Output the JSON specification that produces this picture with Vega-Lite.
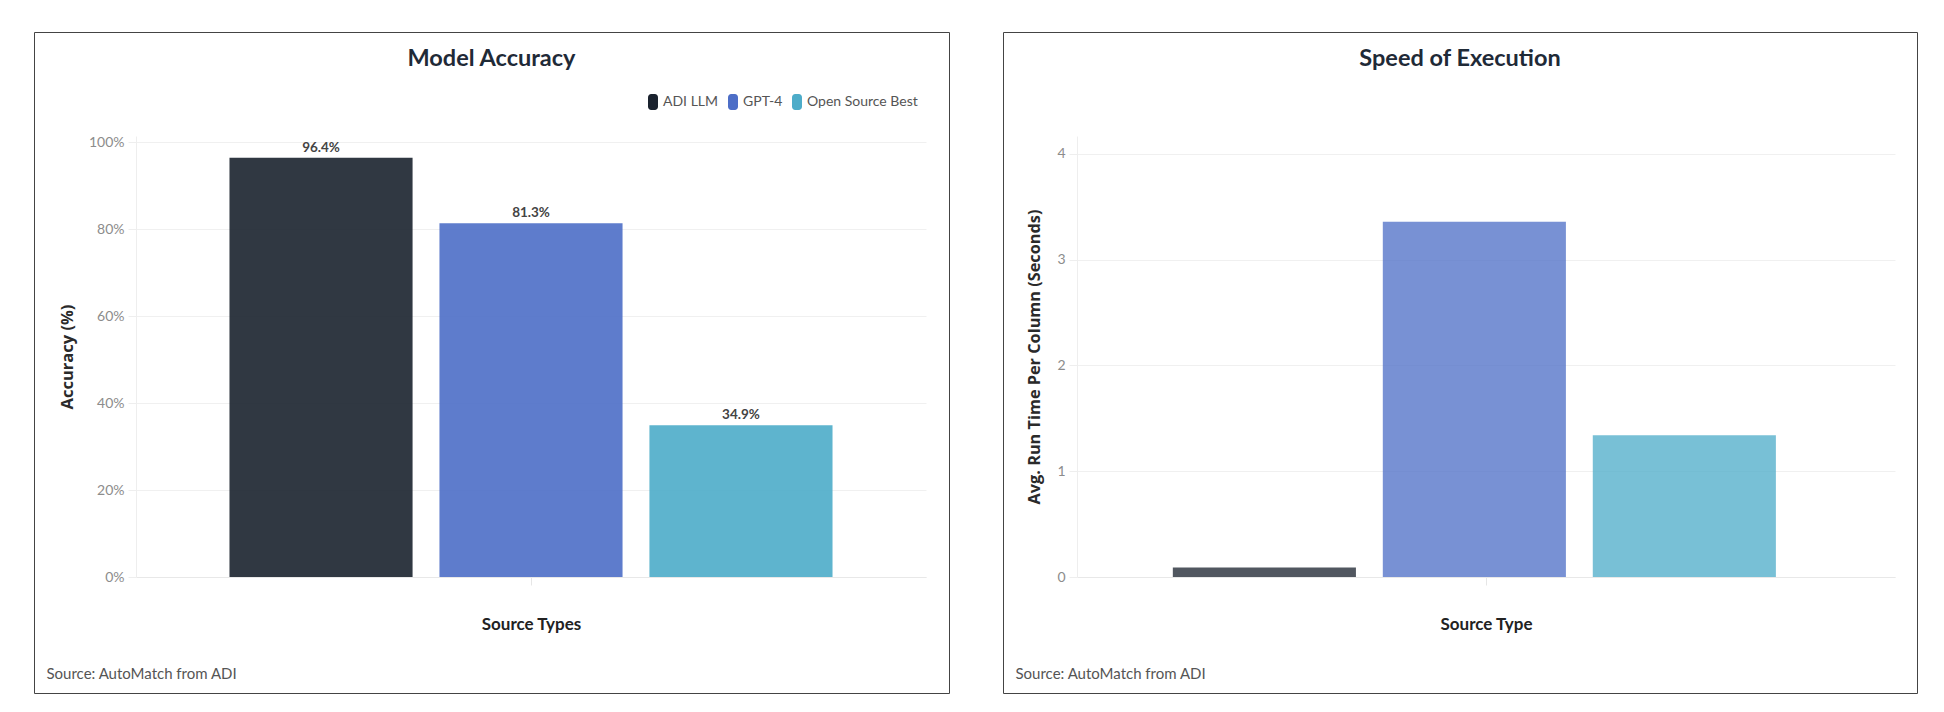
{
  "$schema": "https://vega.github.io/schema/vega-lite/v6.json",
  "padding": {"left": 33, "top": 31, "right": 0, "bottom": 0},
  "background": "white",
  "spacing": 54,
  "bounds": "flush",
  "config": {
    "font": "Lato",
    "view": {"stroke": "#444444", "strokeWidth": 1},
    "axis": {"labelFont": "Lato", "titleFont": "Lato"},
    "legend": {
      "orient": "none",
      "direction": "horizontal",
      "title": null,
      "padding": 0,
      "symbolType": "M-0.625,-0.6 A0.4,0.4 0 0 1 -0.225,-1 H0.225 A0.4,0.4 0 0 1 0.625,-0.6 V0.6 A0.4,0.4 0 0 1 0.225,1 H-0.225 A0.4,0.4 0 0 1 -0.625,0.6 Z",
      "symbolSize": 256,
      "symbolOpacity": 1,
      "symbolStrokeWidth": 0,
      "labelFont": "Lato",
      "labelFontSize": 14,
      "labelColor": "#555555",
      "labelOffset": 2,
      "columnPadding": 6
    },
    "title": {"font": "Lato", "fontSize": 23.5, "fontWeight": "bold", "color": "#1f2a37", "anchor": "middle", "frame": "group", "baseline": "alphabetic", "offset": -38}
  },
  "datasets": {
    "accuracy": [
      {"group": "all", "model": "ADI LLM", "accuracy": 0.964},
      {"group": "all", "model": "GPT-4", "accuracy": 0.813},
      {"group": "all", "model": "Open Source Best", "accuracy": 0.349}
    ],
    "speed": [
      {"group": "all", "model": "ADI LLM", "seconds": 0.09},
      {"group": "all", "model": "GPT-4", "seconds": 3.36},
      {"group": "all", "model": "Open Source Best", "seconds": 1.34}
    ]
  },
  "hconcat": [
    {
      "width": 915,
      "height": 661,
      "data": {"name": "accuracy"},
      "title": {"text": "Model Accuracy"},
      "encoding": {
        "x": {
          "field": "group", "type": "nominal",
          "scale": {"type": "band", "range": [102, 892], "paddingInner": 0, "paddingOuter": 0.155},
          "axis": {
            "orient": "bottom", "offset": -116, "labels": false, "grid": false,
            "tickSize": 8, "tickColor": "#e6e6e6", "domainColor": "#e8e8e8",
            "title": "Source Types", "titleFontSize": 17, "titleFontWeight": "bold", "titleColor": "#222222",
            "titleX": 497, "titleY": 52, "titleAlign": "center", "titleBaseline": "alphabetic"
          }
        },
        "xOffset": {
          "field": "model", "type": "nominal", "sort": ["ADI LLM", "GPT-4", "Open Source Best"],
          "scale": {"paddingInner": 0.128, "paddingOuter": 0}
        },
        "y": {
          "field": "accuracy", "type": "quantitative",
          "scale": {"domain": [0, 1.0138], "range": [545, 104], "nice": false},
          "axis": {
            "offset": -102, "values": [0, 0.2, 0.4, 0.6, 0.8, 1], "format": ".0%",
            "labelFontSize": 14, "labelColor": "#8c8c8c", "labelPadding": 4,
            "tickSize": 8, "tickColor": "#eeeeee", "domainColor": "#eeeeee", "gridColor": "#f0f0f0",
            "title": "Accuracy (%)", "titleFont": "Open Sans", "titleFontSize": 16.5, "titleFontWeight": "bold", "titleColor": "#2a2a2a",
            "titleX": -69, "titleY": 324.5, "titleAngle": 270, "titleAlign": "center", "titleBaseline": "middle"
          }
        }
      },
      "layer": [
        {
          "mark": {"type": "bar", "opacity": 0.9},
          "encoding": {
            "color": {
              "field": "model", "type": "nominal",
              "scale": {"domain": ["ADI LLM", "GPT-4", "Open Source Best"], "range": ["#1a222e", "#4d6ec7", "#4dacc9"]},
              "legend": {"legendX": 611, "legendY": 62}
            }
          }
        },
        {
          "mark": {"type": "text", "dy": -6, "baseline": "alphabetic", "fontWeight": "bold", "fontSize": 13.5, "color": "#444444"},
          "encoding": {
            "text": {"field": "accuracy", "format": ".1%"},
            "x": {
              "field": "group", "type": "nominal",
              "scale": {"type": "band", "range": [102, 892], "paddingInner": 0, "paddingOuter": 0.155},
              "axis": {
                "orient": "bottom", "offset": 0, "labels": false, "ticks": false, "domain": false, "grid": false,
                "title": "Source: AutoMatch from ADI", "titleFontSize": 15, "titleFontWeight": "normal", "titleColor": "#555555",
                "titleX": 12, "titleY": -15, "titleAlign": "left", "titleBaseline": "alphabetic"
              }
            }
          }
        }
      ],
      "resolve": {"axis": {"x": "independent"}}
    },
    {
      "width": 914,
      "height": 661,
      "data": {"name": "speed"},
      "title": {"text": "Speed of Execution"},
      "encoding": {
        "x": {
          "field": "group", "type": "nominal",
          "scale": {"type": "band", "range": [74, 892], "paddingInner": 0, "paddingOuter": 0.153},
          "axis": {
            "orient": "bottom", "offset": -116, "labels": false, "grid": false,
            "tickSize": 8, "tickColor": "#e6e6e6", "domainColor": "#e8e8e8",
            "title": "Source Type", "titleFontSize": 17, "titleFontWeight": "bold", "titleColor": "#222222",
            "titleX": 483, "titleY": 52, "titleAlign": "center", "titleBaseline": "alphabetic"
          }
        },
        "xOffset": {
          "field": "model", "type": "nominal", "sort": ["ADI LLM", "GPT-4", "Open Source Best"],
          "scale": {"paddingInner": 0.128, "paddingOuter": 0}
        },
        "y": {
          "field": "seconds", "type": "quantitative",
          "scale": {"domain": [0, 4.17], "range": [545, 104], "nice": false},
          "axis": {
            "offset": -74, "values": [0, 1, 2, 3, 4], "format": "d",
            "labelFontSize": 14, "labelColor": "#8c8c8c", "labelPadding": 4,
            "tickSize": 8, "tickColor": "#eeeeee", "domainColor": "#eeeeee", "gridColor": "#f0f0f0",
            "title": "Avg. Run Time Per Column (Seconds)", "titleFont": "Open Sans", "titleFontSize": 16.3, "titleFontWeight": "bold", "titleColor": "#2a2a2a",
            "titleX": -43, "titleY": 324.5, "titleAngle": 270, "titleAlign": "center", "titleBaseline": "middle"
          }
        }
      },
      "layer": [
        {
          "mark": {"type": "bar", "opacity": 0.76},
          "encoding": {
            "color": {
              "field": "model", "type": "nominal",
              "scale": {"domain": ["ADI LLM", "GPT-4", "Open Source Best"], "range": ["#1a222e", "#4d6ec7", "#4dacc9"]},
              "legend": {"legendX": 612, "legendY": 62}
            }
          }
        },
        {
          "mark": {"type": "text"},
          "encoding": {
            "text": {"value": ""},
            "x": {
              "field": "group", "type": "nominal",
              "scale": {"type": "band", "range": [74, 892], "paddingInner": 0, "paddingOuter": 0.153},
              "axis": {
                "orient": "bottom", "offset": 0, "labels": false, "ticks": false, "domain": false, "grid": false,
                "title": "Source: AutoMatch from ADI", "titleFontSize": 15, "titleFontWeight": "normal", "titleColor": "#555555",
                "titleX": 12, "titleY": -15, "titleAlign": "left", "titleBaseline": "alphabetic"
              }
            }
          }
        }
      ],
      "resolve": {"axis": {"x": "independent"}}
    }
  ]
}
